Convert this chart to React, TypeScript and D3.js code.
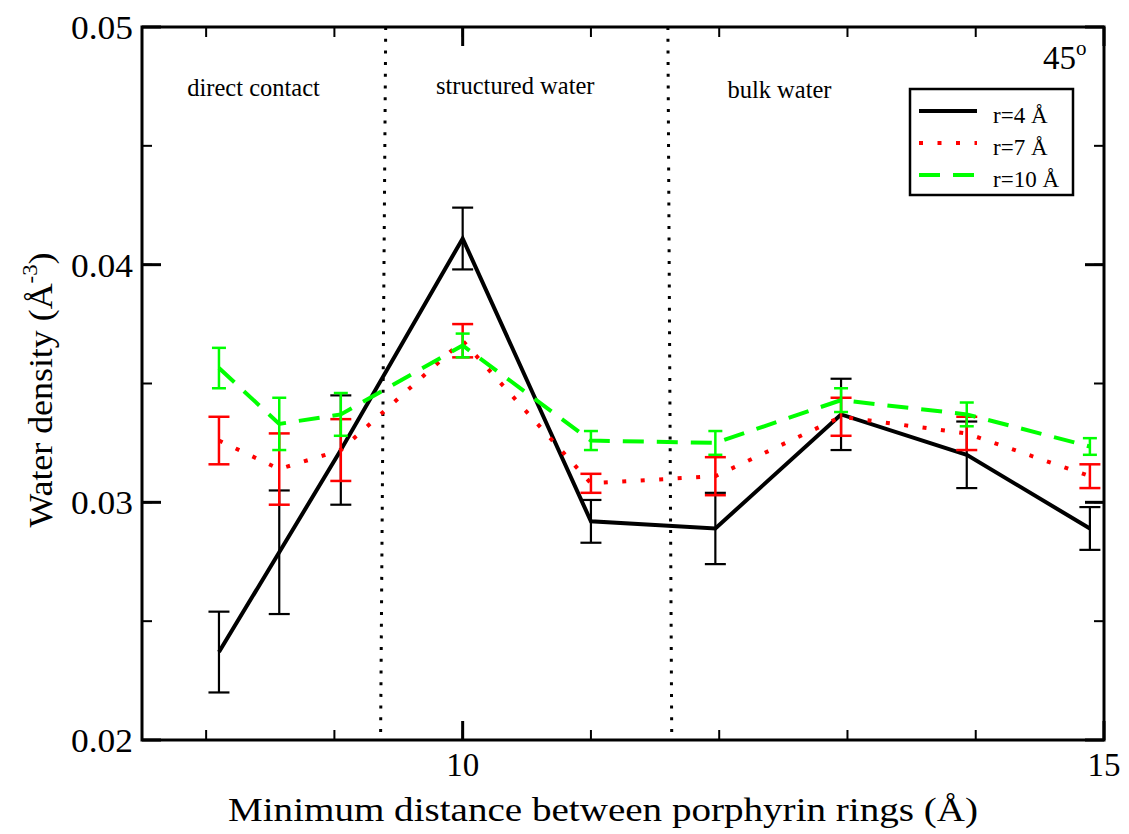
import * as d3 from "d3";
import React from "react";

// distances (Å) at which the density was sampled
const distances = [8.1, 8.57, 9.05, 10, 11, 11.97, 12.95, 13.93, 14.89];

const r4 = [0.0237, 0.0279, 0.0322, 0.0411, 0.0292, 0.0289, 0.0337, 0.032, 0.0289];
const r4Err = [0.0017, 0.0026, 0.0023, 0.0013, 0.0009, 0.0015, 0.0015, 0.0014, 0.0009];

const r7 = [0.0326, 0.0314, 0.0322, 0.0368, 0.0308, 0.0311, 0.0336, 0.0329, 0.0311];
const r7Err = [0.001, 0.0015, 0.0013, 0.0007, 0.0004, 0.0008, 0.0008, 0.0007, 0.0005];

const r10 = [0.03565, 0.0333, 0.0337, 0.0366, 0.0326, 0.0325, 0.0343, 0.0337, 0.03235];
const r10Err = [0.00085, 0.0011, 0.0009, 0.0005, 0.0004, 0.0005, 0.0005, 0.0005, 0.00035];

const seriesNames = ["r=4 Å", "r=7 Å", "r=10 Å"];
const regionNames = ["direct contact", "structured water", "bulk water"];
const regionCenters = [8.37, 10.41, 12.47];
// region separators (top / bottom x)
const separatorTop = [9.4, 11.6];
const separatorBottom = [9.36, 11.63];

const xMajorLabels = ["10", "15"];
const yMajorLabels = ["0.02", "0.03", "0.04", "0.05"];

// above ~33px this setup swaps the serif for a sans, so stay at 33 and stretch
const FONT = "Liberation Serif";
const BIG = 33;

export default function App() {
  const width = 1129;
  const height = 834;
  const left = 142, right = 1104, top = 27, bottom = 740;

  const x = d3.scaleLinear().domain([7.5, 15]).range([left, right]);
  const y = d3.scaleLinear().domain([0.02, 0.05]).range([bottom, top]);

  const xMinor = x.ticks(8);
  const xMajor = x.ticks(2);
  const yMinor = y.ticks(6);
  const yMajor = y.ticks(3);

  const line = d3.line<number>()
    .x((_, i) => x(distances[i]))
    .y((d) => y(d));

  const series = [
    { vals: r4, err: r4Err, color: "#000", width: 4, dash: null as string | null, cap: 10.5, ew: 2.2 },
    { vals: r7, err: r7Err, color: "#ff0000", width: 4, dash: "4,14.5", cap: 10.5, ew: 2.5 },
    { vals: r10, err: r10Err, color: "#00ff00", width: 4, dash: "21,13", cap: 7, ew: 2.5 },
  ];

  const txt = { fontFamily: FONT };

  return (
    <svg width={width} height={height} style={{ position: "absolute", left: 0, top: 0, background: "#fff" }}>
      {/* region separators */}
      {separatorTop.map((s, i) => (
        <line key={"sep" + i} x1={x(s)} x2={x(separatorBottom[i])} y1={top} y2={bottom}
          stroke="#000" strokeWidth={3} strokeDasharray="3,8.7" />
      ))}

      {/* region labels */}
      {regionNames.map((t, i) => (
        <text key={t} style={txt} x={x(regionCenters[i])} y={[96, 94, 98][i]} fontSize={24.5} textAnchor="middle">{t}</text>
      ))}

      {/* series */}
      {series.map((s, si) => (
        <g key={"s" + si}>
          <path d={line(s.vals) || ""} fill="none" stroke={s.color} strokeWidth={s.width}
            strokeDasharray={s.dash || undefined} strokeLinejoin="miter" />
          {s.vals.map((v, i) => {
            const cx = x(distances[i]);
            const y1 = y(v + s.err[i]);
            const y2 = y(v - s.err[i]);
            return (
              <g key={i} stroke={s.color} strokeWidth={s.ew}>
                <line x1={cx} x2={cx} y1={y1} y2={y2} />
                <line x1={cx - s.cap} x2={cx + s.cap} y1={y1} y2={y1} />
                <line x1={cx - s.cap} x2={cx + s.cap} y1={y2} y2={y2} />
              </g>
            );
          })}
        </g>
      ))}

      {/* frame */}
      <rect x={left} y={top} width={right - left} height={bottom - top} fill="none" stroke="#000" strokeWidth={3} />

      {/* ticks, inward on all sides */}
      {xMinor.map((t) => (
        <g key={"xm" + t} stroke="#000" strokeWidth={2}>
          <line x1={x(t)} x2={x(t)} y1={bottom} y2={bottom - 10} />
          <line x1={x(t)} x2={x(t)} y1={top} y2={top + 10} />
        </g>
      ))}
      {xMajor.map((t) => (
        <g key={"xM" + t} stroke="#000" strokeWidth={3}>
          <line x1={x(t)} x2={x(t)} y1={bottom} y2={bottom - 19} />
          <line x1={x(t)} x2={x(t)} y1={top} y2={top + 19} />
        </g>
      ))}
      {yMinor.map((t) => (
        <g key={"ym" + t} stroke="#000" strokeWidth={2}>
          <line x1={left} x2={left + 10} y1={y(t)} y2={y(t)} />
          <line x1={right} x2={right - 10} y1={y(t)} y2={y(t)} />
        </g>
      ))}
      {yMajor.map((t) => (
        <g key={"yM" + t} stroke="#000" strokeWidth={3}>
          <line x1={left} x2={left + 19} y1={y(t)} y2={y(t)} />
          <line x1={right} x2={right - 19} y1={y(t)} y2={y(t)} />
        </g>
      ))}

      {/* tick labels */}
      {xMajor.map((t, i) => (
        <text key={"xl" + t} style={txt} x={x(t)} y={bottom + 36} fontSize={BIG} textAnchor="middle">{xMajorLabels[i]}</text>
      ))}
      {yMajor.map((t, i) => (
        <text key={"yl" + t} style={txt} x={left - 9} y={y(t) + 12} fontSize={BIG} textAnchor="end"
          textLength={62} lengthAdjust="spacingAndGlyphs">{yMajorLabels[i]}</text>
      ))}

      {/* axis titles */}
      <text style={txt} x={603} y={821} fontSize={BIG} textAnchor="middle" textLength={750} lengthAdjust="spacingAndGlyphs">
        Minimum distance between porphyrin rings (Å)
      </text>
      <text style={txt} transform={`translate(52, 390) rotate(-90)`} fontSize={BIG} textAnchor="middle"
        textLength={275} lengthAdjust="spacingAndGlyphs">
        Water density (Å<tspan fontSize={21} dy={-15}>-3</tspan><tspan dy={15}>)</tspan>
      </text>

      {/* angle */}
      <text style={txt} x={1043} y={69} fontSize={33}>45<tspan fontSize={21} dy={-14}>o</tspan></text>

      {/* legend */}
      <rect x={910} y={89} width={163} height={106} fill="#fff" stroke="#000" strokeWidth={2.5} />
      {series.map((s, i) => (
        <g key={"lg" + i}>
          <line x1={919} x2={977} y1={111 + i * 32} y2={111 + i * 32} stroke={s.color} strokeWidth={4}
            strokeDasharray={s.dash || undefined} />
          <text style={txt} x={993} y={123 + i * 32} fontSize={23}>{seriesNames[i]}</text>
        </g>
      ))}
    </svg>
  );
}
